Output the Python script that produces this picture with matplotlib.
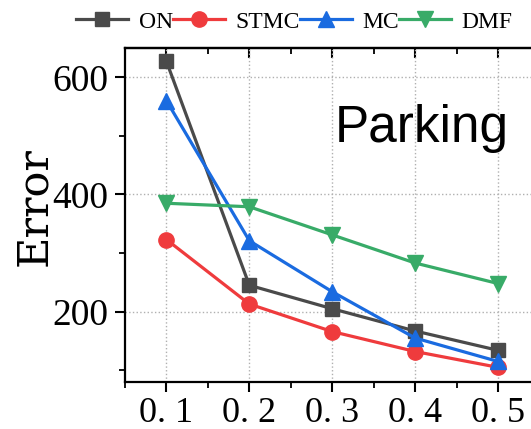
import numpy as np
import matplotlib.pyplot as plt
from matplotlib.ticker import MultipleLocator

# data
ratios = [0.1, 0.2, 0.3, 0.4, 0.5]
xtick_labels = ["0. 1", "0. 2", "0. 3", "0. 4", "0. 5"]
err_on = [627, 245, 205, 167, 134]
err_stmc = [323, 213, 166, 132, 105]
err_mc = [560, 321, 234, 155, 115]
err_dmf = [385, 379, 331, 283, 248]

plt.rcParams['font.family'] = ['Liberation Serif', 'DejaVu Serif']

fig = plt.figure(figsize=(5.31, 4.29), dpi=100)
ax = fig.add_axes([0.2354, 0.1096, 0.7806, 0.7786])

kw = dict(lw=2.3, markersize=11)
ax.plot(ratios, err_on, color="#4a4a4a", marker="s", markersize=10, lw=2.3, label="ON")
ax.plot(ratios, err_stmc, color="#ef3b3d", marker="o", label="STMC", **kw)
ax.plot(ratios, err_mc, color="#1a6be0", marker="^", label="MC", **kw)
ax.plot(ratios, err_dmf, color="#38ab68", marker="v", label="DMF", **kw)

ax.set_xlim(0.05, 0.55)
ax.set_ylim(80, 650)
ax.set_xticks(ratios)
ax.set_xticklabels(xtick_labels)
ax.xaxis.set_minor_locator(MultipleLocator(0.05))
ax.yaxis.set_major_locator(MultipleLocator(200))
ax.yaxis.set_minor_locator(MultipleLocator(100))

ax.grid(True, which="major", linestyle=":", color="#b0b0b0", lw=1.0)
for s in ax.spines.values():
    s.set_linewidth(1.6)

ax.tick_params(axis="both", which="major", labelsize=27, length=7, width=1.5, pad=5)
ax.tick_params(axis="both", which="minor", length=4, width=1.3)
ax.tick_params(axis="x", which="major", labelsize=26, pad=4)

# top ticks point inward
sec = ax.secondary_xaxis("top")
sec.set_xticks(ratios)
sec.xaxis.set_minor_locator(MultipleLocator(0.05))
sec.tick_params(which="major", direction="in", length=7, width=1.5, labeltop=False)
sec.tick_params(which="minor", direction="in", length=4, width=1.3)
sec.spines["top"].set_linewidth(1.6)

ax.set_ylabel("Error", fontsize=31, family=["DejaVu Serif"])
ax.yaxis.set_label_coords(-0.168, 0.524)

ax.text(0.303, 489, "Parking", family=["Liberation Sans", "DejaVu Sans"],
        fontsize=37, ha="left", va="baseline")

ax.legend(loc="center", bbox_to_anchor=(0.409, 1.078), ncol=4, frameon=False,
          fontsize=17, handlelength=2.2, handletextpad=0.45, columnspacing=0.0,
          borderaxespad=0, bbox_transform=ax.transAxes)

fig.savefig("out.png", dpi=100)
